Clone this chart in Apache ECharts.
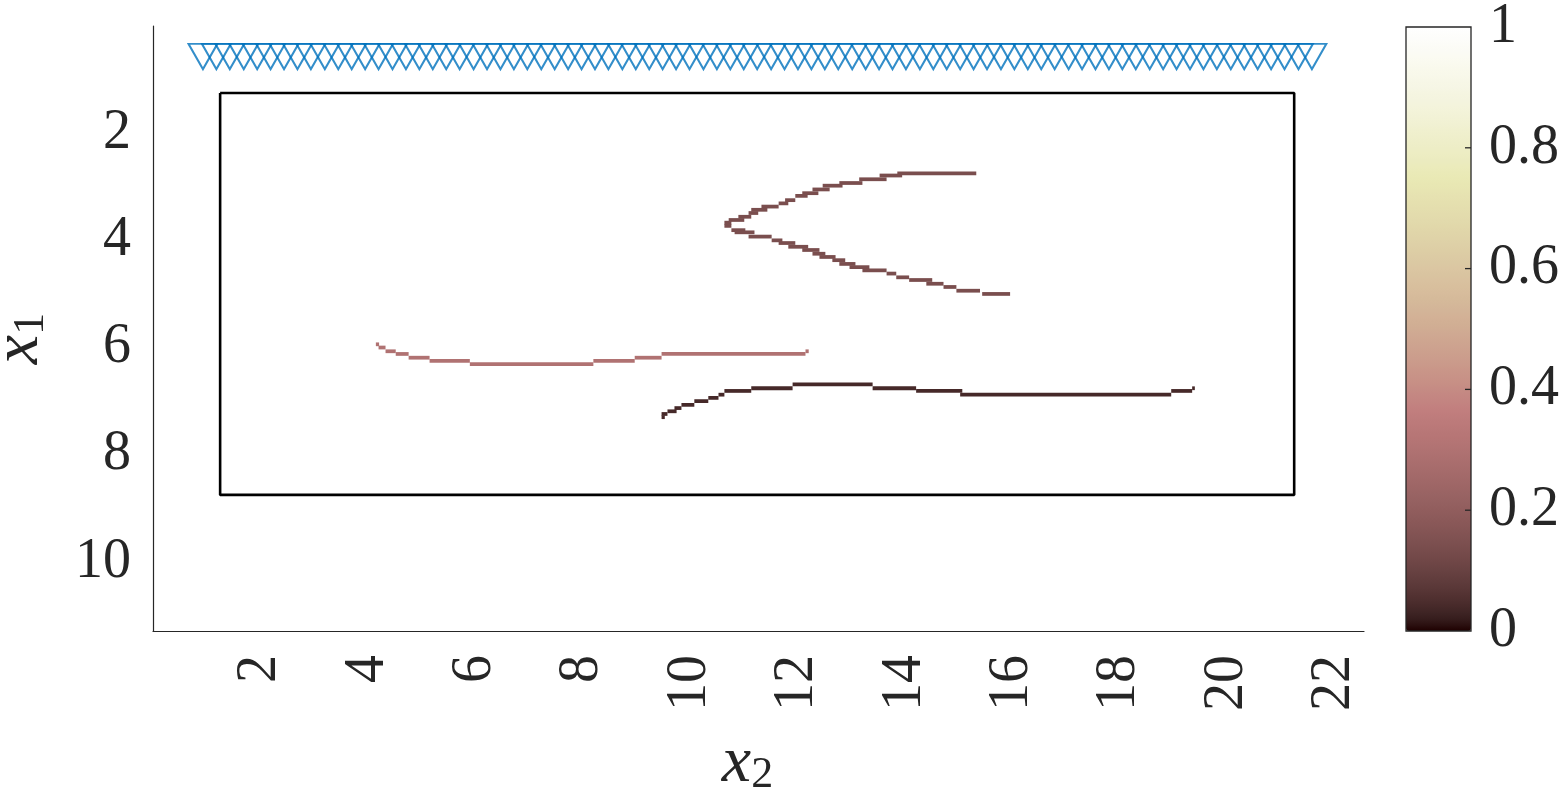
<!DOCTYPE html>
<html><head><meta charset="utf-8">
<script src="https://cdn.jsdelivr.net/npm/echarts@6/dist/echarts.min.js"></script>
<style>html,body{margin:0;padding:0;background:#fff}#c{width:1565px;height:790px}</style>
</head><body><div id="c"></div>
<script>
// ---- tick labels ----
const xTicks = [2,4,6,8,10,12,14,16,18,20,22];
const yTicks = [2,4,6,8,10];
const cbTicks = [0,0.2,0.4,0.6,0.8,1];

// ---- blue triangle markers (x positions, common y) ----
const markerX = [0.93,1.18,1.43,1.69,1.94,2.19,2.44,2.69,2.94,3.20,3.45,3.70,3.95,4.20,4.46,4.71,4.96,5.21,5.46,5.71,
  5.97,6.22,6.47,6.72,6.97,7.23,7.48,7.73,7.98,8.23,8.48,8.74,8.99,9.24,9.49,9.74,9.99,10.25,10.50,10.75,
  11.00,11.25,11.51,11.76,12.01,12.26,12.51,12.76,13.02,13.27,13.52,13.77,14.02,14.28,14.53,14.78,15.03,15.28,15.53,15.79,
  16.04,16.29,16.54,16.79,17.05,17.30,17.55,17.80,18.05,18.30,18.56,18.81,19.06,19.31,19.56,19.81,20.07,20.32,20.57,20.82,
  21.07,21.33,21.58];
const markerY = 0.57;

// ---- black rectangle corners ----
const boxX = [1.25,21.25,21.25,1.25,1.25];
const boxY = [1.25,1.25,8.75,8.75,1.25];

// ---- image cells: horizontal runs [x start, x end, row y] ----
const curveUpper = [
  [13.86,15.33,2.75],[13.53,13.95,2.79],[13.15,13.66,2.86],[12.78,13.21,2.93],[12.47,12.84,2.98],
  [12.28,12.60,3.05],[12.09,12.39,3.12],[11.96,12.19,3.17],[11.77,11.96,3.25],[11.65,11.83,3.31],
  [11.33,11.65,3.37],[11.14,11.44,3.43],[11.09,11.27,3.49],[10.90,11.14,3.56],[10.72,11.01,3.62],
  [10.64,10.77,3.67],[10.64,10.77,3.73],[10.77,11.03,3.81],[10.83,11.20,3.85],[11.09,11.52,3.93],
  [11.52,11.72,4.00],[11.65,11.96,4.05],[11.83,12.20,4.12],[12.09,12.41,4.18],[12.28,12.52,4.25],
  [12.41,12.71,4.31],[12.65,12.89,4.37],[12.78,13.08,4.44],[12.97,13.34,4.50],[13.21,13.66,4.56],
  [13.66,13.84,4.62],[13.84,14.08,4.69],[14.08,14.51,4.74],[14.40,14.72,4.81],[14.72,14.96,4.87],
  [14.96,15.40,4.94],[15.44,15.96,5.00]
];
const valUpper = 0.14;
const curveMiddle = [
  [4.15,4.21,5.94],[4.20,4.33,6.00],[4.33,4.52,6.07],[4.52,4.76,6.12],[4.76,5.15,6.19],
  [5.15,5.90,6.25],[5.90,8.20,6.31],[8.20,8.97,6.25],[8.97,9.47,6.19],[9.47,12.15,6.12],
  [12.15,12.21,6.07]
];
const valMiddle = 0.30;
const curveLower = [
  [9.47,9.58,7.24],[9.47,9.53,7.30],[9.58,9.75,7.19],[9.71,9.84,7.13],[9.84,10.08,7.07],
  [10.08,10.34,7.00],[10.34,10.53,6.94],[10.53,10.64,6.88],[10.64,11.14,6.81],[11.14,11.91,6.76],
  [11.91,13.40,6.69],[13.40,14.21,6.76],[14.21,15.07,6.81],[15.03,18.96,6.88],[18.96,19.35,6.81],
  [19.35,19.40,6.76]
];
const valLower = 0.04;
const cellH = 0.07;

// MATLAB "pink" colormap (style)
function pinkMap(m){
  const n = Math.floor(3/8*m), out = [];
  for (let i=0;i<m;i++){
    const r = i<n ? (i+1)/n : 1;
    const g = i<n ? 0 : (i<2*n ? (i-n+1)/n : 1);
    const b = i<2*n ? 0 : (i-2*n+1)/(m-2*n);
    const gr = i/(m-1);
    const c = [r,g,b].map(h => Math.round(255*Math.sqrt((2*gr+h)/3)));
    out.push('rgb('+c.join(',')+')');
  }
  return out;
}

const cells = [];
curveUpper.forEach(s => cells.push([s[0],s[1],s[2],valUpper]));
curveMiddle.forEach(s => cells.push([s[0],s[1],s[2],valMiddle]));
curveLower.forEach(s => cells.push([s[0],s[1],s[2],valLower]));

const TXT = '#262626';
const FONT = 'Liberation Serif';
const pick = (arr) => (v) => { const t = arr.find(c => Math.abs(c-v) < 1e-9); return t === undefined ? '' : String(t); };
const nameRich = {
  i: {fontFamily: FONT, fontStyle: 'italic', fontSize: 66, lineHeight: 66, color: TXT},
  s: {fontFamily: FONT, fontSize: 44, lineHeight: 30, verticalAlign: 'bottom', color: TXT}
};

const chart = echarts.init(document.getElementById('c'));
chart.setOption({
  animation: false,
  backgroundColor: '#fff',
  grid: [
    {left: 153, top: 26, width: 1211, height: 605, containLabel: false, outerBoundsMode: 'none'},
    {left: 1406, top: 27, width: 65, height: 604, show: true, borderColor: TXT, borderWidth: 1.3, z: 6,
     containLabel: false, outerBoundsMode: 'none'}
  ],
  xAxis: [
    {gridIndex: 0, type: 'value', min: 0, max: 22.55, interval: 2,
     axisLine: {show: true, onZero: false, lineStyle: {color: TXT, width: 1.2}},
     axisTick: {show: false}, splitLine: {show: false},
     axisLabel: {rotate: 90, margin: 24, fontSize: 56, fontFamily: FONT, color: TXT, formatter: pick(xTicks)},
     name: '{i|x}{s|2}', nameLocation: 'middle', nameGap: 100,
     nameTextStyle: {rich: nameRich, padding: [0, 22, 0, 0]}},
    {gridIndex: 1, type: 'value', min: 0, max: 1, show: false}
  ],
  yAxis: [
    {gridIndex: 0, type: 'value', inverse: true, min: 0, max: 11.29, interval: 2,
     axisLine: {show: true, onZero: false, lineStyle: {color: TXT, width: 1.2}},
     axisTick: {show: false}, splitLine: {show: false},
     axisLabel: {margin: 22, fontSize: 56, fontFamily: FONT, color: TXT, formatter: pick(yTicks)},
     name: '{i|x}{s|1}', nameLocation: 'middle', nameRotate: 90, nameGap: 100,
     nameTextStyle: {rich: nameRich, padding: [0, 20, 0, 0]}},
    {gridIndex: 1, type: 'value', min: 0, max: 1, interval: 0.2, position: 'right', z: 10,
     axisLine: {show: false}, splitLine: {show: false}, axisTick: {show: false},
     axisLabel: {margin: 18, fontSize: 56, fontFamily: FONT, color: TXT, formatter: pick(cbTicks)}}
  ],
  visualMap: {
    type: 'continuous', min: 0, max: 1, seriesIndex: 2, dimension: 3,
    calculable: false, orient: 'vertical', left: 1406, top: 27, itemWidth: 65, itemHeight: 604,
    padding: 0, z: 2, inRange: {color: pinkMap(64)}
  },
  series: [
    {type: 'scatter', xAxisIndex: 0, yAxisIndex: 0, z: 3,
     data: markerX.map(x => [x, markerY]),
     symbol: 'path://M0,0L20,0L10,17.5Z', symbolKeepAspect: false, symbolSize: [28.8, 25.3],
     itemStyle: {color: 'rgba(0,0,0,0)', borderColor: '#0072BD', borderWidth: 2},
     emphasis: {disabled: true}},
    {type: 'line', xAxisIndex: 0, yAxisIndex: 0, z: 4,
     data: boxX.map((x, i) => [x, boxY[i]]), symbol: 'none',
     lineStyle: {color: '#000', width: 2.6}},
    {type: 'custom', xAxisIndex: 0, yAxisIndex: 0, z: 2,
     data: cells, encode: {x: [0, 1], y: 2},
     renderItem: function (params, api) {
       const a = api.coord([api.value(0), api.value(2) - cellH/2]);
       const b = api.coord([api.value(1), api.value(2) + cellH/2]);
       return {type: 'rect',
         shape: {x: Math.min(a[0], b[0]), y: Math.min(a[1], b[1]), width: Math.abs(b[0]-a[0]), height: Math.abs(b[1]-a[1])},
         style: {fill: api.visual('color')}};
     }},
    {type: 'custom', xAxisIndex: 1, yAxisIndex: 1, z: 10, silent: true,
     data: cbTicks.slice(1, -1).map(v => [1, v]), encode: {x: 0, y: 1},
     renderItem: function (params, api) {
       const p = api.coord([api.value(0), api.value(1)]);
       return {type: 'line', shape: {x1: p[0] - 6, y1: p[1], x2: p[0], y2: p[1]},
         style: {stroke: TXT, lineWidth: 1.3}};
     }}
  ]
});
</script></body></html>
